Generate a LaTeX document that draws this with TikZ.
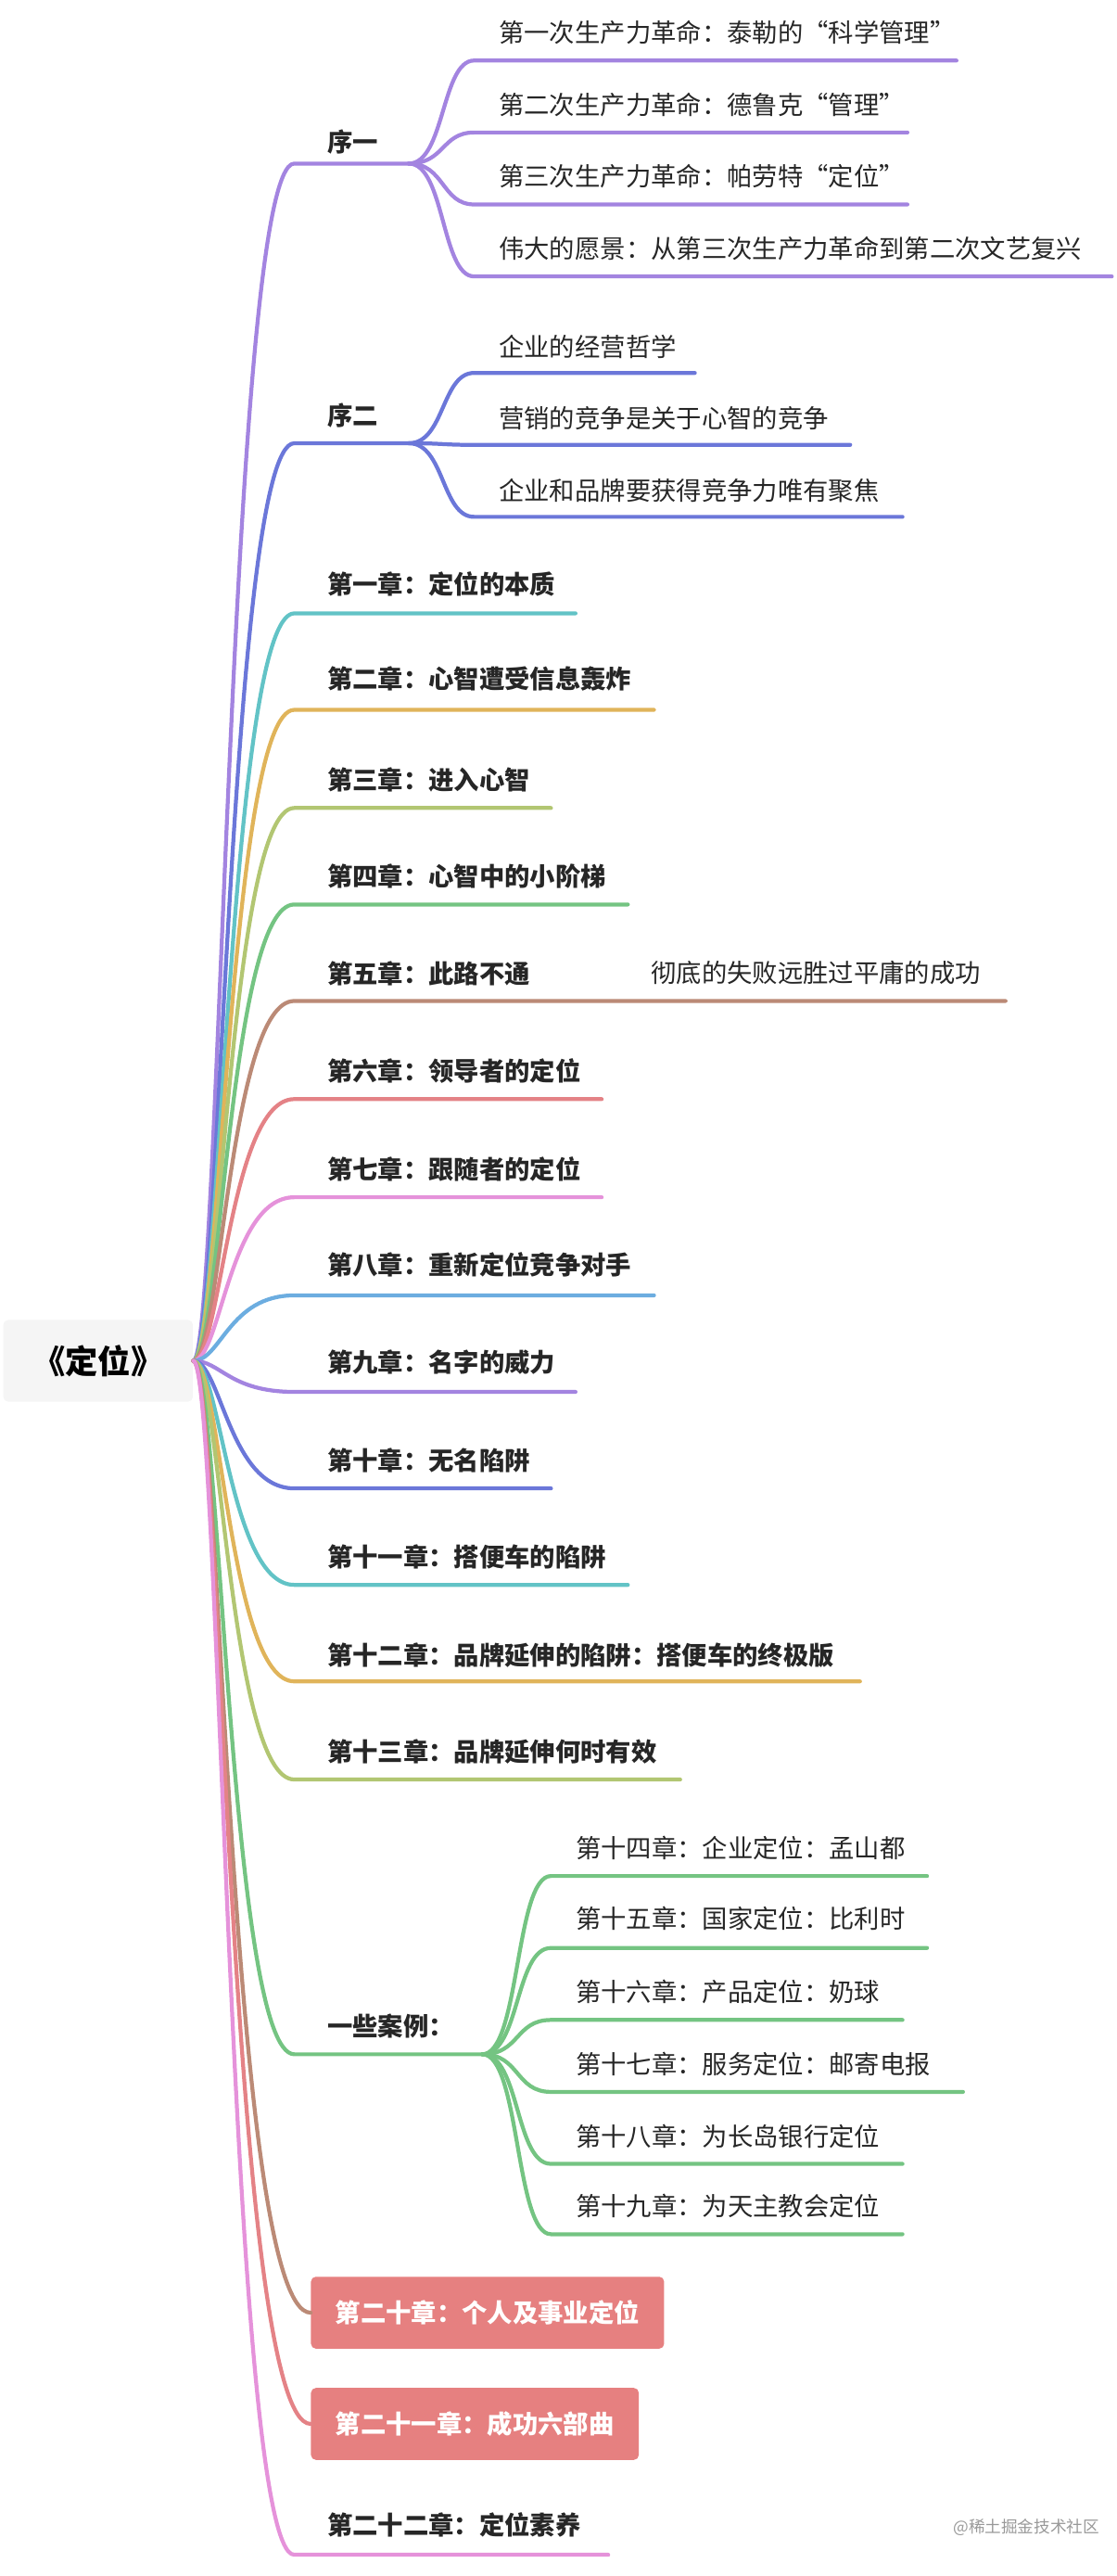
\documentclass[tikz,border=0pt]{standalone}
\usepackage{fontspec}
\setmainfont{Noto Sans CJK SC}
\definecolor{cPur}{HTML}{A384E0}
\definecolor{cBlu}{HTML}{6B77D9}
\definecolor{cTea}{HTML}{62C3C6}
\definecolor{cGol}{HTML}{E0B45A}
\definecolor{cOli}{HTML}{B2C672}
\definecolor{cGre}{HTML}{74C482}
\definecolor{cBro}{HTML}{BB8A76}
\definecolor{cRed}{HTML}{E48286}
\definecolor{cPin}{HTML}{E592DA}
\definecolor{cSky}{HTML}{6CADE0}
\definecolor{boxRed}{HTML}{E68080}
\tikzset{
  lbl/.style={anchor=west,font=\fontsize{15.5}{18}\selectfont\bfseries,inner sep=0pt,text=black!85},
  sub/.style={anchor=west,font=\fontsize{15.5}{18}\selectfont,inner sep=0pt,text=black!85},
  wire/.style={line width=2.4pt,line cap=round},
  hl/.style={anchor=west,fill=boxRed,rounded corners=3pt,text=white,font=\fontsize{15.5}{18}\selectfont\bfseries,minimum height=44pt,inner xsep=15pt}
}
\newcommand\mbranch[6]{%
  \node[lbl] (#1) at (200,#3) {#6};
  \coordinate (#1s) at (180,#4);
  \coordinate (#1e) at (#5,#4);
  \draw[wire,#2] (root.east) .. controls (135,832) and (140,#4) .. (#1s) -- (#1e);
}
\begin{document}
\begin{tikzpicture}[x=1pt,y=-1pt]
\useasboundingbox (0,0) rectangle (683,1575);
\node[fill=black!4,rounded corners=3pt,minimum width=116pt,minimum height=50pt,font=\fontsize{20}{24}\selectfont\bfseries] (root) at (60,832) {《定位》};
% 序一
\node[lbl] (x1) at (200,87) {序一};
\coordinate (x1s) at (180,100); \coordinate (x1end) at (250,100);
\draw[wire,cPur] (root.east) .. controls (135,832) and (140,100) .. (x1s) -- (x1end);
\foreach \n/\ty/\ly/\xe/\t in {a/20/37/585/第一次生产力革命：泰勒的“科学管理”,b/64/81/555/第二次生产力革命：德鲁克“管理”,c/108/125/555/第三次生产力革命：帕劳特“定位”,d/152/169/680/伟大的愿景：从第三次生产力革命到第二次文艺复兴}{
  \node[sub] (x1t\n) at (305,\ty) {\t};
  \coordinate (x1s\n) at (290,\ly); \coordinate (x1e\n) at (\xe,\ly);
  \draw[wire,cPur] (x1end) .. controls (272,100) and (270,\ly) .. (x1s\n) -- (x1e\n);
}
% 序二
\node[lbl] (x2) at (200,254) {序二};
\coordinate (x2s) at (180,271); \coordinate (x2end) at (250,271);
\draw[wire,cBlu] (root.east) .. controls (135,832) and (140,271) .. (x2s) -- (x2end);
\foreach \n/\ty/\ly/\xe/\t in {a/212/228/425/企业的经营哲学,b/256/272/520/营销的竞争是关于心智的竞争,c/300/316/552/企业和品牌要获得竞争力唯有聚焦}{
  \node[sub] (x2t\n) at (305,\ty) {\t};
  \coordinate (x2s\n) at (290,\ly); \coordinate (x2e\n) at (\xe,\ly);
  \draw[wire,cBlu] (x2end) .. controls (272,271) and (270,\ly) .. (x2s\n) -- (x2e\n);
}
\mbranch{c1}{cTea}{357}{375}{352}{第一章：定位的本质}
\mbranch{c2}{cGol}{415}{434}{400}{第二章：心智遭受信息轰炸}
\mbranch{c3}{cOli}{477}{494}{337}{第三章：进入心智}
\mbranch{c4}{cGre}{536}{553}{384}{第四章：心智中的小阶梯}
\mbranch{c5}{cBro}{595}{612}{615}{第五章：此路不通}
\node[sub] (c5a) at (398,595) {彻底的失败远胜过平庸的成功};
\mbranch{c6}{cRed}{655}{672}{368}{第六章：领导者的定位}
\mbranch{c7}{cPin}{715}{732}{368}{第七章：跟随者的定位}
\mbranch{c8}{cSky}{773}{792}{400}{第八章：重新定位竞争对手}
\mbranch{c9}{cPur}{833}{851}{352}{第九章：名字的威力}
\mbranch{c10}{cBlu}{893}{910}{337}{第十章：无名陷阱}
\mbranch{c11}{cTea}{952}{969}{384}{第十一章：搭便车的陷阱}
\mbranch{c12}{cGol}{1012}{1028}{526}{第十二章：品牌延伸的陷阱：搭便车的终极版}
\mbranch{c13}{cOli}{1071}{1088}{416}{第十三章：品牌延伸何时有效}
% 案例
\node[lbl] (cs) at (200,1239) {一些案例：};
\coordinate (css) at (180,1256); \coordinate (csend) at (295,1256);
\draw[wire,cGre] (root.east) .. controls (135,832) and (140,1256) .. (css) -- (csend);
\foreach \n/\ty/\ly/\xe/\t in {a/1130/1147/567/第十四章：企业定位：孟山都,b/1173/1191/567/第十五章：国家定位：比利时,c/1218/1235/552/第十六章：产品定位：奶球,d/1262/1279/589/第十七章：服务定位：邮寄电报,e/1306/1323/552/第十八章：为长岛银行定位,f/1349/1366/552/第十九章：为天主教会定位}{
  \node[sub] (cst\n) at (352,\ty) {\t};
  \coordinate (css\n) at (337,\ly); \coordinate (cse\n) at (\xe,\ly);
  \draw[wire,cGre] (csend) .. controls (318,1256) and (315,\ly) .. (css\n) -- (cse\n);
}
\node[hl] (c20) at (190,1414) {第二十章：个人及事业定位};
\draw[wire,cBro] (root.east) .. controls (135,832) and (140,1414) .. (c20.west);
\node[hl] (c21) at (190,1482) {第二十一章：成功六部曲};
\draw[wire,cRed] (root.east) .. controls (135,832) and (140,1482) .. (c21.west);
\mbranch{c22}{cPin}{1544}{1562}{372}{第二十二章：定位素养}
\node[anchor=east,font=\fontsize{10}{12}\selectfont,text=black!40] (wm) at (676,1545) {@稀土掘金技术社区};
\end{tikzpicture}
\end{document}
